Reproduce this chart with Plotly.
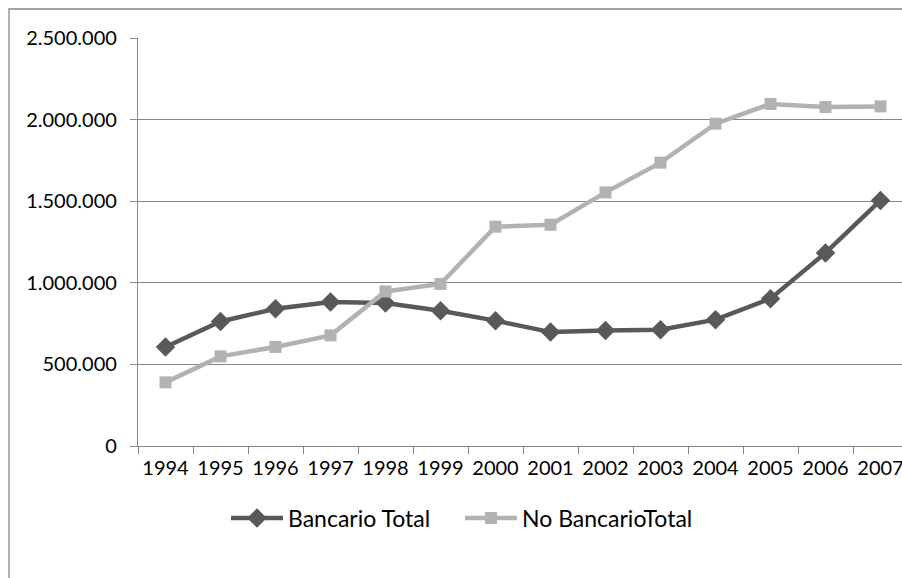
import plotly.graph_objects as go

years = ["1994", "1995", "1996", "1997", "1998", "1999", "2000",
         "2001", "2002", "2003", "2004", "2005", "2006", "2007"]
bancario_total = [607000, 763000, 841000, 882000, 876000, 829000, 768000,
                  698000, 708000, 712000, 774000, 903000, 1183000, 1505000]
no_bancario_total = [390000, 549000, 607000, 678000, 947000, 993000, 1344000,
                     1356000, 1554000, 1736000, 1975000, 2096000, 2077000, 2081000]
y_ticks = [0, 500000, 1000000, 1500000, 2000000, 2500000]

W, H = 902, 578
L, T, B = 138, 38, 446
plot_w = W - L
plot_h = B - T
step = 55.0

FONT = "Lato"
GRID = "#878787"

fig = go.Figure()
fig.add_trace(go.Scatter(
    x=years, y=bancario_total, name="Bancario Total", mode="lines+markers",
    line=dict(color="#595959", width=4.5),
    marker=dict(symbol="diamond", size=15, color="#595959"),
))
fig.add_trace(go.Scatter(
    x=years, y=no_bancario_total, name="No BancarioTotal", mode="lines+markers",
    line=dict(color="#b2b2b2", width=4.5),
    marker=dict(symbol="square", size=12, color="#b2b2b2"),
))

def px_to_paper_x(px):
    return (px - L) / plot_w

def px_to_paper_y(py):
    return (B - py) / plot_h

fig.update_layout(
    width=W, height=H,
    margin=dict(l=L, r=0, t=T, b=H - B, pad=0, autoexpand=False),
    paper_bgcolor="white", plot_bgcolor="white",
    separators=",.",
    font=dict(family=FONT, size=20, color="#000000"),
    showlegend=True,
    legend=dict(
        orientation="h", x=px_to_paper_x(226), xanchor="left",
        y=px_to_paper_y(518), yanchor="middle",
        font=dict(family=FONT, size=23, color="#000000"),
        itemwidth=52, bgcolor="rgba(0,0,0,0)", tracegroupgap=0,
        entrywidth=167, entrywidthmode="pixels",
    ),
    xaxis=dict(
        type="category", range=[-0.5, -0.5 + plot_w / step],
        showgrid=False, showline=True, linecolor=GRID, linewidth=1.3,
        ticks="outside", tickson="boundaries", ticklen=7, tickcolor=GRID,
        tickwidth=1.3, tickfont=dict(family=FONT, size=20), zeroline=False,
        tickangle=0, automargin=False, ticklabelstandoff=4,
    ),
    yaxis=dict(
        range=[0, 2500000], tickvals=y_ticks, tickformat=",d",
        showgrid=True, gridcolor=GRID, gridwidth=1.3,
        showline=True, linecolor=GRID, linewidth=1.3,
        ticks="outside", ticklen=7, tickcolor=GRID, tickwidth=1.3,
        tickfont=dict(family=FONT, size=20), zeroline=False,
        automargin=False, ticklabelstandoff=9,
    ),
    shapes=[dict(
        type="rect", xref="paper", yref="paper",
        x0=px_to_paper_x(9), x1=px_to_paper_x(W + 20),
        y0=px_to_paper_y(H + 20), y1=px_to_paper_y(9),
        line=dict(color=GRID, width=1.3), fillcolor="rgba(0,0,0,0)",
        layer="below",
    )],
)

fig.write_html(
    "out.html",
    config={"displayModeBar": False},
    post_script=(
        "document.documentElement.style.overflow='hidden';"
        "document.body.style.margin='0';"
        "document.body.style.overflow='hidden';"
    ),
)
